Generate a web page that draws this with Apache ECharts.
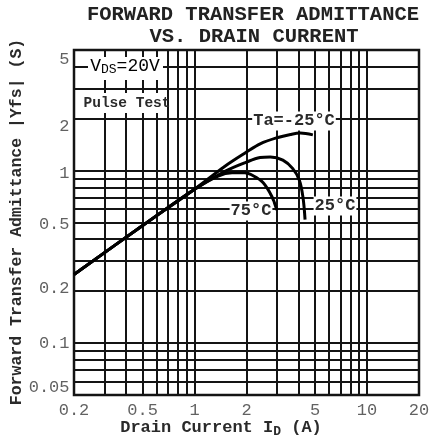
<!DOCTYPE html>
<html><head><meta charset="utf-8">
<script src="https://cdn.jsdelivr.net/npm/echarts@6/dist/echarts.min.js"></script>
<style>html,body{margin:0;padding:0;background:#fff}#c{width:433px;height:439px}</style>
</head><body><div id="c"></div>
<script>
// ---- data ----
const xTicks = [0.2, 0.5, 1, 2, 5, 10, 20];
const yTicks = [0.05, 0.1, 0.2, 0.5, 1, 2, 5];
const xGrid = [0.3, 0.4, 0.5, 0.6, 0.7, 0.8, 0.9, 1, 2, 3, 4, 5, 6, 7, 8, 9, 10];
const yGrid = [0.06, 0.07, 0.08, 0.09, 0.1, 0.2, 0.3, 0.4, 0.5, 0.6, 0.7, 0.8, 0.9, 1, 2, 3, 4];
const seriesNames = ['Ta=-25°C', '25°C', '75°C'];
const curveM25 = [[0.2,0.25],[0.5,0.48],[1,0.78],[1.5,1.06],[2,1.28],[2.4,1.43],[3,1.55],[3.6,1.62],[4.1,1.65],[4.85,1.61]];
const curve25  = [[0.2,0.25],[0.5,0.48],[1,0.78],[1.5,0.99],[2,1.12],[2.4,1.19],[2.75,1.2],[3.25,1.15],[3.7,1.03],[4.05,0.88],[4.25,0.7],[4.37,0.52]];
const curve75  = [[0.2,0.25],[0.5,0.48],[1,0.78],[1.37,0.93],[1.65,0.97],[1.95,0.97],[2.2,0.93],[2.5,0.85],[2.8,0.71],[3.0,0.59]];
const xMin = 0.2, xMax = 20, yMin = 0.05, yMax = 5;

// ---- layout / style ----
const MONO = "'Liberation Mono', 'DejaVu Sans Mono', monospace";
const INK = '#141414';
const yLabelNudge = {5: 9, 2: 8, 1: 3, 0.5: 2, 0.2: -3, 0.1: 0, 0.05: -8};

const chart = echarts.init(document.getElementById('c'), null, {renderer: 'canvas'});

const curveSeries = [curveM25, curve25, curve75].map((d, i) => ({
  name: seriesNames[i], type: 'line', data: d, smooth: 0.35, showSymbol: false,
  lineStyle: {color: '#000', width: 3}, z: 5, silent: true
}));

chart.setOption({
  animation: false,
  backgroundColor: '#fff',
  grid: {left: 74, right: 14, top: 50, bottom: 44, show: true, borderColor: INK, borderWidth: 2.5, backgroundColor: 'transparent'},
  xAxis: {type: 'log', logBase: 10, min: xMin, max: xMax,
    axisLabel: {show: false}, axisTick: {show: false}, splitLine: {show: false}, axisLine: {show: false}},
  yAxis: {type: 'log', logBase: 10, min: yMin, max: yMax,
    axisLabel: {show: false}, axisTick: {show: false}, splitLine: {show: false}, axisLine: {show: false}},
  series: [
    {type: 'line', data: [[1, 1]], showSymbol: false, lineStyle: {opacity: 0}, silent: true, z: 1,
      markLine: {symbol: 'none', silent: true, animation: false, label: {show: false},
        lineStyle: {color: INK, width: 2, type: 'solid'},
        emphasis: {disabled: true},
        data: xGrid.map(v => ({xAxis: v})).concat(yGrid.map(v => ({yAxis: v})))}},
    ...curveSeries,
    {type: 'scatter', data: xTicks.map(v => [v, yMin]), symbolSize: 1, itemStyle: {color: 'transparent'}, clip: false, silent: true,
      label: {show: true, position: 'bottom', distance: 6, color: '#3a3a3a', fontFamily: MONO, fontSize: 17,
        formatter: p => String(p.value[0])}},
    {type: 'scatter', data: yTicks.map(v => ({value: [xMin, v], label: {offset: [0, yLabelNudge[v] || 0]}})), symbolSize: 1, itemStyle: {color: 'transparent'}, clip: false, silent: true,
      label: {show: true, position: 'left', distance: 4, color: '#3a3a3a', fontFamily: MONO, fontSize: 17,
        formatter: p => String(p.value[1])}}
  ],
  graphic: [
    {type: 'text', x: 253, y: 15, z: 100, style: {text: 'FORWARD TRANSFER ADMITTANCE', font: 'bold 20.5px ' + MONO, fill: '#222', align: 'center', verticalAlign: 'middle'}},
    {type: 'text', x: 254, y: 37, z: 100, style: {text: 'VS. DRAIN CURRENT', font: 'bold 20.5px ' + MONO, fill: '#222', align: 'center', verticalAlign: 'middle'}},
    {type: 'text', x: 17, y: 222, rotation: Math.PI / 2, z: 100, style: {text: 'Forward Transfer Admittance |Yfs| (S)', font: 'bold 16.5px ' + MONO, fill: '#2a2a2a', align: 'center', verticalAlign: 'middle'}},
    {type: 'text', x: 221, y: 428, z: 100, style: {
      text: '{a|Drain Current I}{s|D}{a| (A)}', align: 'center', verticalAlign: 'middle',
      rich: {a: {font: 'bold 17px ' + MONO, fill: '#2a2a2a', color: '#2a2a2a', verticalAlign: 'middle'},
             s: {font: 'bold 13px ' + MONO, fill: '#2a2a2a', color: '#2a2a2a', verticalAlign: 'bottom', padding: [8, 0, 0, 0]}}}},
    {type: 'rect', z: 90, shape: {x: 88, y: 57, width: 75, height: 23}, style: {fill: '#fff'}},
    {type: 'rect', z: 90, shape: {x: 84, y: 93, width: 82, height: 20}, style: {fill: '#fff'}},
    {type: 'text', x: 125, y: 66, z: 100, style: {
      text: '{a|V}{s|DS}{a|=20V}', align: 'center', verticalAlign: 'middle',
      rich: {a: {font: '18px ' + MONO, color: '#2a2a2a', verticalAlign: 'middle'},
             s: {font: '13px ' + MONO, color: '#2a2a2a', verticalAlign: 'bottom', padding: [8, 0, 0, 0]}}}},
    {type: 'text', x: 127, y: 103, z: 100, style: {text: 'Pulse Test', font: 'bold 14.5px ' + MONO, fill: '#2a2a2a', align: 'center', verticalAlign: 'middle'}},
    {type: 'text', x: 294, y: 121, z: 100, style: {text: seriesNames[0], font: 'bold 17px ' + MONO, fill: '#2a2a2a', align: 'center', verticalAlign: 'middle', backgroundColor: '#fff', padding: [1, 1]}},
    {type: 'text', x: 335, y: 206, z: 100, style: {text: seriesNames[1], font: 'bold 17px ' + MONO, fill: '#2a2a2a', align: 'center', verticalAlign: 'middle', backgroundColor: '#fff', padding: [1, 1]}},
    {type: 'text', x: 251, y: 211, z: 100, style: {text: seriesNames[2], font: 'bold 17px ' + MONO, fill: '#2a2a2a', align: 'center', verticalAlign: 'middle', backgroundColor: '#fff', padding: [1, 1]}}
  ]
});
</script></body></html>
